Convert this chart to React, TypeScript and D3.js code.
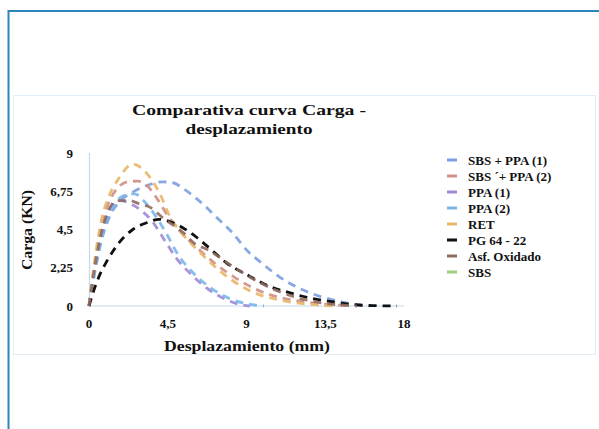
import React from "react";
import * as d3 from "d3";

type Pt = [number, number];

const xTicks = [0, 4.5, 9, 13.5, 18];
const yTicks = [0, 2.25, 4.5, 6.75, 9];
const xTickLabels = ["0", "4,5", "9", "13,5", "18"];
const yTickLabels = ["0", "2,25", "4,5", "6,75", "9"];

const seriesNames = [
  "SBS + PPA (1)",
  "SBS \u00b4+ PPA (2)",
  "PPA (1)",
  "PPA (2)",
  "RET",
  "PG 64 - 22",
  "Asf. Oxidado",
  "SBS",
];
const seriesColors = [
  "#7b9fe0",
  "#cf8f84",
  "#a088d6",
  "#78b6ea",
  "#e8b668",
  "#111111",
  "#8f6a62",
  "#9ccf78",
];

const sbsPpa1: Pt[] = [[0,0],[0.3,1.8],[0.7,3.8],[1.2,5.3],[1.8,6.2],[2.5,6.7],[3.1,7.0],[4.2,7.3],[4.8,7.25],[5.4,6.9],[6.5,6.0],[7.3,5.2],[8.2,4.3],[9.0,3.3],[9.9,2.5],[10.9,1.7],[11.9,1.1],[13.1,0.6],[14.2,0.3],[15.3,0.08],[16.0,0]];
const sbsPpa2: Pt[] = [[0,0],[0.3,2.3],[0.7,4.6],[1.1,6.0],[1.6,6.9],[2.2,7.3],[2.8,7.35],[3.3,7.1],[3.9,6.3],[4.5,5.3],[5.2,4.4],[6.2,3.4],[7.2,2.5],[8.3,1.7],[9.5,1.0],[10.9,0.5],[12.3,0.25],[13.8,0.08],[15,0]];
const ppa1: Pt[] = [[0,0],[0.2,1.5],[0.5,3.3],[0.9,5.0],[1.3,5.9],[1.8,6.2],[2.4,6.0],[3.0,5.6],[3.6,5.0],[4.3,3.9],[5.0,2.8],[5.9,1.8],[6.8,1.0],[7.9,0.35],[8.8,0.05],[9.2,0]];
const ppa2: Pt[] = [[0,0],[0.2,1.3],[0.5,3.0],[0.9,4.7],[1.4,5.9],[2.0,6.5],[2.6,6.6],[3.2,6.1],[3.8,5.3],[4.4,4.3],[5.1,3.0],[6.0,1.9],[6.9,1.1],[8.0,0.45],[9.3,0.08],[10,0]];
const ret: Pt[] = [[0,0],[0.3,2.5],[0.7,5.0],[1.2,6.6],[1.7,7.5],[2.5,8.35],[3.3,7.8],[4.1,6.5],[4.6,5.3],[5.2,4.4],[6.2,3.3],[7.1,2.4],[8.2,1.5],[9.4,0.8],[10.9,0.35],[12.4,0.12],[14,0]];
const pg6422: Pt[] = [[0,0],[0.3,1.0],[0.6,1.8],[1.0,2.6],[1.7,3.7],[2.5,4.5],[3.3,4.9],[4.0,5.1],[4.8,4.9],[6.2,4.0],[7.0,3.3],[7.9,2.5],[9.1,1.8],[10.2,1.2],[11.4,0.8],[12.7,0.45],[13.9,0.25],[15.1,0.08],[16.3,0.02],[17.6,0]];
const asfOxidado: Pt[] = [[0,0],[0.25,1.8],[0.6,3.8],[1.0,5.3],[1.6,6.2],[2.3,6.2],[2.9,6.0],[3.5,5.8],[4.2,5.2],[5.4,4.3],[6.0,3.7],[6.8,3.3],[8.1,2.4],[9.8,1.35],[11.7,0.55],[13.2,0.2],[14.5,0.05],[15.3,0]];
const sbs: Pt[] = [];

const seriesData: Pt[][] = [sbsPpa1, sbsPpa2, ppa1, ppa2, ret, pg6422, asfOxidado, sbs];

const W = 599;
const H = 429;

export default function App() {
  const x = d3.scaleLinear().domain([0, 18]).range([89, 404]);
  const y = d3.scaleLinear().domain([0, 9]).range([306, 153]);
  const line = d3
    .line<Pt>()
    .x((d) => x(d[0]))
    .y((d) => y(d[1]))
    .curve(d3.curveMonotoneX);

  const font = "'Liberation Serif', 'Times New Roman', serif";

  return (
    <svg
      width={W}
      height={H}
      viewBox={`0 0 ${W} ${H}`}
      style={{ position: "fixed", left: 0, top: 0, background: "#fff" }}
      fontFamily={font}
    >
      <rect x={0} y={0} width={W} height={H} fill="#fff" />
      {/* outer frame */}
      <line x1={8.5} y1={11} x2={W} y2={11} stroke="#2a86bb" strokeWidth={2} />
      <line x1={8.5} y1={10} x2={8.5} y2={H} stroke="#2a86bb" strokeWidth={2} />
      {/* chart area */}
      <rect x={13.5} y={95.5} width={582} height={259} fill="#fff" stroke="#e3edf5" strokeWidth={1} />

      {/* title */}
      <text x={249} y={115} textAnchor="middle" fontSize={15} fontWeight="bold" fill="#111"
        textLength={234} lengthAdjust="spacingAndGlyphs">
        Comparativa  curva Carga -
      </text>
      <text x={249} y={134} textAnchor="middle" fontSize={15} fontWeight="bold" fill="#111"
        textLength={127} lengthAdjust="spacingAndGlyphs">
        desplazamiento
      </text>

      {/* axes */}
      <line x1={x(0)} y1={y(0)} x2={x(18)} y2={y(0)} stroke="#c4dbee" strokeWidth={1.2} />
      <line x1={x(0) + 0.5} y1={y(0)} x2={x(0) + 0.5} y2={y(9)} stroke="#c4dbee" strokeWidth={1.2} />

      {xTicks.map((t, i) => (
        <text key={"xt" + i} x={x(t)} y={328} textAnchor="middle" fontSize={13} fontWeight="bold" fill="#111">
          {xTickLabels[i]}
        </text>
      ))}
      {yTicks.map((t, i) => (
        <text key={"yt" + i} x={73} y={y(t) + 4.5} textAnchor="end" fontSize={13} fontWeight="bold" fill="#111">
          {yTickLabels[i]}
        </text>
      ))}

      <text x={247} y={351} textAnchor="middle" fontSize={15} fontWeight="bold" fill="#111"
        textLength={166} lengthAdjust="spacingAndGlyphs">
        Desplazamiento (mm)
      </text>
      <text transform="translate(32,230) rotate(-90)" textAnchor="middle" fontSize={15} fontWeight="bold" fill="#111"
        textLength={80} lengthAdjust="spacingAndGlyphs">
        Carga (KN)
      </text>

      {/* series */}
      {seriesData.map((d, i) =>
        d.length ? (
          <path
            key={"s" + i}
            d={line(d) || ""}
            fill="none"
            stroke={seriesColors[i]}
            strokeWidth={2.8}
            strokeDasharray="8,6"
            strokeOpacity={i === 5 ? 1 : 0.9}
          />
        ) : null
      )}

      {/* legend */}
      {seriesNames.map((n, i) => (
        <g key={"lg" + i} transform={`translate(0,${160 + i * 16})`}>
          <line x1={447} x2={457} y1={0} y2={0} stroke={seriesColors[i]} strokeWidth={3} />
          <text x={468} y={4.5} fontSize={13} fontWeight="bold" fill="#111">
            {n}
          </text>
        </g>
      ))}
    </svg>
  );
}
